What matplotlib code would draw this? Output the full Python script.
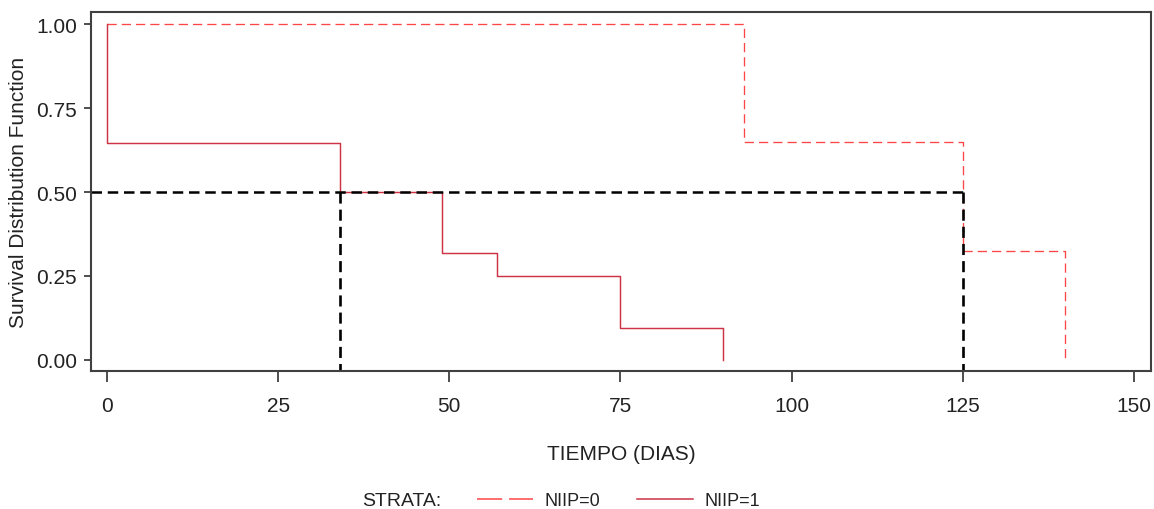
import numpy as np
import matplotlib
matplotlib.use("Agg")
import matplotlib.pyplot as plt
from matplotlib.lines import Line2D

# Kaplan-Meier estimates
t_niip0 = [0, 93, 125, 140]
s_niip0 = [1.0, 0.65, 0.325, 0.0]

t_niip1 = [0, 0, 34, 49, 57, 75, 90]
s_niip1 = [1.0, 0.647, 0.5, 0.318, 0.25, 0.094, 0.0]

median_level = 0.5
median_times = [34, 125]

xticks = [0, 25, 50, 75, 100, 125, 150]
yticks = [0.0, 0.25, 0.5, 0.75, 1.0]

fs = 15
lfs = 13
plt.rcParams.update({'font.family': ['Liberation Sans', 'DejaVu Sans'],
                     'font.size': fs,
                     'axes.linewidth': 1.5,
                     'axes.edgecolor': '#404040',
                     'xtick.color': '#404040',
                     'ytick.color': '#404040',
                     'xtick.labelcolor': '#222222',
                     'ytick.labelcolor': '#222222',
                     'xtick.major.size': 8,
                     'ytick.major.size': 5,
                     'xtick.major.width': 1.3,
                     'ytick.major.width': 1.3})

red0 = '#ff4646'
red1 = '#cc3344'

fig = plt.figure(figsize=(11.54, 5.10), dpi=100)
ax = fig.add_axes([0.0789, 0.2706, 0.9185, 0.7039])

ax.step(t_niip0, s_niip0, where='post', color=red0, lw=0.95,
        dashes=(7.0, 3.8))
ax.step(t_niip1, s_niip1, where='post', color=red1, lw=1.05)

# median reference lines
xmin, xmax = -2.34, 152.5
ymin, ymax = -0.033, 1.036
ax.plot([xmin, max(median_times)], [median_level, median_level],
        color='black', lw=1.8, dashes=(4.2, 2.3))
for mt in median_times:
    ax.plot([mt, mt], [median_level, ymin], color='black', lw=1.9,
            dashes=(4.2, 2.3))

ax.set_xlim(xmin, xmax)
ax.set_ylim(ymin, ymax)
ax.set_xticks(xticks)
ax.set_yticks(yticks)
ax.set_yticklabels(['%.2f' % v for v in yticks])
ax.tick_params(axis='x', pad=10)
ax.tick_params(axis='y', pad=5)

ax.set_xlabel('TIEMPO (DIAS)', color='#222222', labelpad=21)
ax.set_ylabel('Survival Distribution Function', color='#222222', labelpad=6)

# legend
fig.text(0.3137, 0.016, 'STRATA:', color='#222222', va='center', fontsize=14)
handles = [Line2D([], [], color=red0, lw=1.1, dashes=(16.5, 4.5)),
           Line2D([], [], color=red1, lw=1.1)]
fig.legend(handles, ['NIIP=0', 'NIIP=1'], ncol=2, frameon=False,
           loc='center left', bbox_to_anchor=(0.3992, 0.016),
           handlelength=3.1, handletextpad=0.66, columnspacing=2.0,
           fontsize=lfs, labelcolor='#222222')

plt.savefig('out.png', dpi=100)
